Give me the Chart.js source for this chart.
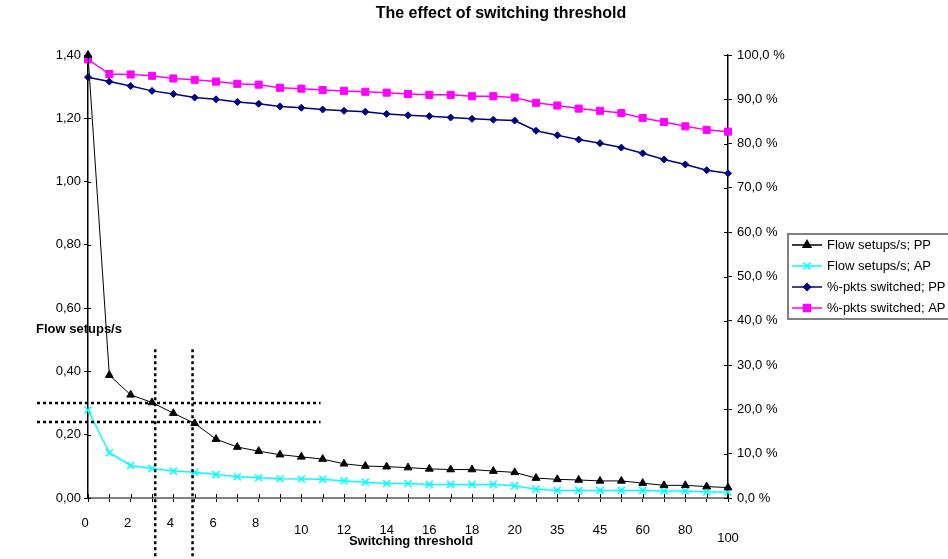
<!DOCTYPE html>
<html>
<head>
<meta charset="utf-8">
<title>The effect of switching threshold</title>
<script src="https://cdn.jsdelivr.net/npm/chart.js@4.4.1/dist/chart.umd.min.js"></script>
<style>
  html, body { margin: 0; padding: 0; background: #fff; }
  #wrap { width: 948px; height: 559px; position: relative; }
</style>
</head>
<body>
<div id="wrap"><canvas id="chart"></canvas></div>
<script>
// switching threshold (x categories)
const thresholds = ['0', '1', '2', '3', '4', '5', '6', '7', '8', '9', '10',
    '11', '12', '13', '14', '15', '16', '17', '18', '19', '20',
    '30', '35', '40', '45', '50', '60', '70', '80', '90', '100'];
// only every other category gets a label
const xTickLabels = ['0', '2', '4', '6', '8', '10', '12', '14', '16', '18', '20',
    '35', '45', '60', '80', '100'];

// flow setups/s (left axis)
const flowPP = [1.40, 0.388, 0.326, 0.302, 0.268, 0.236, 0.186, 0.161, 0.148, 0.137, 0.130,
    0.123, 0.108, 0.101, 0.099, 0.096, 0.092, 0.090, 0.090, 0.085, 0.081,
    0.063, 0.059, 0.057, 0.054, 0.054, 0.047, 0.040, 0.040, 0.036, 0.033];
const flowAP = [0.278, 0.143, 0.103, 0.093, 0.085, 0.081, 0.074, 0.067, 0.064, 0.061, 0.060,
    0.059, 0.054, 0.050, 0.046, 0.046, 0.043, 0.043, 0.043, 0.043, 0.039,
    0.028, 0.024, 0.024, 0.024, 0.024, 0.024, 0.022, 0.022, 0.019, 0.019];

// %-pkts switched (right axis, percent)
const pktsPP = [95.0, 94.0, 93.0, 91.9, 91.2, 90.4, 90.0, 89.4, 89.0, 88.4, 88.1,
    87.7, 87.4, 87.2, 86.7, 86.4, 86.2, 85.9, 85.6, 85.4, 85.2,
    82.9, 81.9, 80.9, 80.1, 79.1, 77.8, 76.4, 75.3, 74.0, 73.3];
const pktsAP = [99.0, 95.7, 95.6, 95.3, 94.7, 94.4, 94.0, 93.5, 93.3, 92.6, 92.4,
    92.1, 91.9, 91.7, 91.5, 91.2, 91.0, 91.0, 90.7, 90.7, 90.4,
    89.2, 88.6, 87.9, 87.4, 86.9, 85.8, 84.9, 83.9, 83.1, 82.7];

// dotted guide lines drawn in the original (category index / flow value)
const guideX = [3.15, 4.9];
const guideY = [0.30, 0.24];

const FONT = '"Liberation Sans", Arial, sans-serif';

const seriesStyle = [
    { label: 'Flow setups/s; PP', data: flowPP, color: '#000000', style: 'triangle', radius: 4.5, axis: 'y' },
    { label: 'Flow setups/s; AP', data: flowAP, color: '#00FFFF', style: 'crossRot', radius: 5, axis: 'y' },
    { label: '%-pkts switched; PP', data: pktsPP, color: '#000080', style: 'rectRot', radius: 3.5, axis: 'y2' },
    { label: '%-pkts switched; AP', data: pktsAP, color: '#FF00FF', style: 'rect', radius: 5, axis: 'y2' }
];

// axis tick halves inside the plot, x labels, axis titles, guides, legend
const extras = {
    id: 'extras',
    afterDraw(chart) {
        const ctx = chart.ctx;
        const x = chart.scales.x, y = chart.scales.y, y2 = chart.scales.y2;
        const area = chart.chartArea;
        ctx.save();

        ctx.strokeStyle = '#000';
        ctx.lineWidth = 1;
        ctx.beginPath();
        x.ticks.forEach((t, i) => {
            const px = Math.round(x.getPixelForTick(i)) + 0.5;
            ctx.moveTo(px, area.bottom);
            ctx.lineTo(px, area.bottom - 4);
        });
        y.ticks.forEach((t, i) => {
            const py = Math.round(y.getPixelForTick(i)) + 0.5;
            ctx.moveTo(area.left, py);
            ctx.lineTo(area.left + 3, py);
        });
        y2.ticks.forEach((t, i) => {
            const py = Math.round(y2.getPixelForTick(i)) + 0.5;
            ctx.moveTo(area.right, py);
            ctx.lineTo(area.right - 4, py);
        });
        ctx.stroke();

        // x labels step down with their length, as in the original
        ctx.font = '13px ' + FONT;
        ctx.fillStyle = '#000';
        ctx.textAlign = 'center';
        ctx.textBaseline = 'middle';
        thresholds.forEach((t, i) => {
            if (!xTickLabels.includes(t)) return;
            const px = x.getPixelForValue(i) - (t.length === 1 ? 3 : 0);
            const py = area.bottom + 25 + (t.length - 1) * 7.5;
            ctx.fillText(t, px, py);
        });

        ctx.font = 'bold 13px ' + FONT;
        ctx.textAlign = 'left';
        ctx.fillText('Flow setups/s', 36, 329);
        ctx.textAlign = 'center';
        ctx.fillText('Switching threshold', (area.left + area.right) / 2 + 3, 541);

        // dotted guides
        ctx.setLineDash([3, 3]);
        ctx.lineWidth = 2.5;
        ctx.beginPath();
        guideX.forEach(v => {
            const px = x.getPixelForValue(v);
            ctx.moveTo(px, y.getPixelForValue(0.47));
            ctx.lineTo(px, chart.height);
        });
        guideY.forEach(v => {
            const py = y.getPixelForValue(v);
            ctx.moveTo(37, py);
            ctx.lineTo(x.getPixelForValue(10.9), py);
        });
        ctx.stroke();
        ctx.setLineDash([]);

        // legend
        const lx = 788, ly = 234;
        ctx.fillStyle = '#fff';
        ctx.fillRect(lx, ly, 165, 85);
        ctx.strokeStyle = '#808080';
        ctx.lineWidth = 2;
        ctx.strokeRect(lx, ly, 165, 85);
        seriesStyle.forEach((s, i) => {
            const cy = ly + 11 + i * 21;
            ctx.strokeStyle = s.color;
            ctx.fillStyle = s.color;
            ctx.lineWidth = 1.5;
            ctx.beginPath();
            ctx.moveTo(792, cy);
            ctx.lineTo(822, cy);
            ctx.stroke();
            Chart.helpers.drawPoint(ctx, {
                pointStyle: s.style, radius: s.radius, rotation: 0, borderWidth: 1.5
            }, 807, cy);
            ctx.fillStyle = '#000';
            ctx.font = '13px ' + FONT;
            ctx.textAlign = 'left';
            ctx.textBaseline = 'middle';
            ctx.fillText(s.label, 827, cy);
        });
        ctx.restore();
    }
};

function initChart() {
    const ctx = document.getElementById('chart').getContext('2d');
    new Chart(ctx, {
        type: 'line',
        data: {
            labels: thresholds,
            datasets: seriesStyle.map(s => ({
                label: s.label,
                data: s.data,
                yAxisID: s.axis,
                borderColor: s.color,
                backgroundColor: s.color,
                borderWidth: s.axis === 'y' && s.color === '#000000' ? 1 : 1.5,
                pointStyle: s.style,
                pointRadius: s.radius,
                pointBackgroundColor: s.color,
                pointBorderColor: s.color,
                pointBorderWidth: s.style === 'crossRot' ? 1.5 : 1,
                tension: 0,
                clip: false
            }))
        },
        options: {
            responsive: true,
            maintainAspectRatio: false,
            animation: false,
            events: [],
            layout: { padding: { left: 54, right: 0, top: 0, bottom: 0 } },
            plugins: {
                legend: { display: false },
                tooltip: { enabled: false },
                title: {
                    display: true,
                    text: 'The effect of switching threshold',
                    color: '#000',
                    font: { family: FONT, size: 16, weight: 'bold' },
                    padding: { top: 4.4, bottom: 31.4 }
                }
            },
            scales: {
                x: {
                    type: 'category',
                    offset: false,
                    ticks: { display: false },
                    grid: { drawOnChartArea: false, tickLength: 4, tickColor: '#000' },
                    border: { color: '#808080', width: 2 },
                    afterFit(s) { s.height = 61; }
                },
                y: {
                    position: 'left',
                    min: 0,
                    max: 1.4,
                    ticks: {
                        stepSize: 0.2,
                        padding: 3,
                        color: '#000',
                        font: { family: FONT, size: 13 },
                        callback: v => Number(v).toFixed(2).replace('.', ',')
                    },
                    grid: { drawOnChartArea: false, tickLength: 4, tickColor: '#000' },
                    border: { color: '#000', width: 1.5 },
                    afterFit(s) { s.width = 88 - 54; }
                },
                y2: {
                    position: 'right',
                    min: 0,
                    max: 100,
                    ticks: {
                        stepSize: 10,
                        padding: 5,
                        color: '#000',
                        font: { family: FONT, size: 13 },
                        callback: v => Number(v).toFixed(1).replace('.', ',') + ' %'
                    },
                    grid: { drawOnChartArea: false, tickLength: 4, tickColor: '#000' },
                    border: { color: '#000', width: 1.5 },
                    afterFit(s) { s.width = 948 - 728; }
                }
            }
        },
        plugins: [extras]
    });
}

document.addEventListener('DOMContentLoaded', () => {
    initChart();
});
</script>
</body>
</html>
